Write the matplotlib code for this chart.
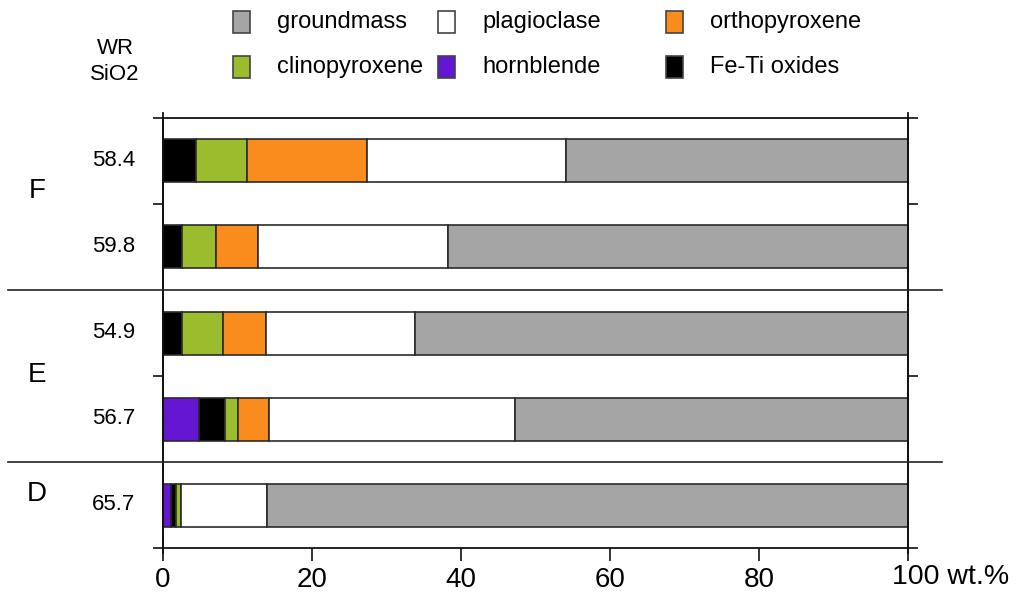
import matplotlib
matplotlib.use("Agg")
import matplotlib.pyplot as plt
from matplotlib.patches import Rectangle
from matplotlib.lines import Line2D
from matplotlib.transforms import blended_transform_factory

plt.rcParams['font.family'] = ['Liberation Sans', 'DejaVu Sans']

# ---- data ----
samples = ["58.4", "59.8", "54.9", "56.7", "65.7"]
groups = ["F", "E", "D"]
minerals = ["hornblende", "Fe-Ti oxides", "clinopyroxene", "orthopyroxene", "plagioclase", "groundmass"]
hornblende = [0.0, 0.0, 0.0, 4.8, 1.1]
fe_ti = [4.4, 2.5, 2.5, 3.5, 0.6]
cpx = [6.9, 4.6, 5.6, 1.8, 0.7]
opx = [16.1, 5.7, 5.7, 4.1, 0.0]
plag = [26.7, 25.5, 20.0, 33.0, 11.6]
groundmass = [45.9, 61.7, 66.2, 52.8, 86.0]
xticks = [0, 20, 40, 60, 80, 100]

series = [hornblende, fe_ti, cpx, opx, plag, groundmass]
colors = {"hornblende": "#6516D3", "Fe-Ti oxides": "#000000", "clinopyroxene": "#9BBC2C",
          "orthopyroxene": "#F98C1D", "plagioclase": "#FFFFFF", "groundmass": "#A5A5A5"}
edge = "#2b2b2b"

W, H = 1018, 593
fig = plt.figure(figsize=(W / 100, H / 100), dpi=100)
ax = fig.add_axes([163 / W, 1 - 548 / H, 745 / W, 430 / H])

ypos = list(range(len(samples)))
left = [0.0] * len(samples)
for name, vals in zip(minerals, series):
    ax.barh(ypos, vals, left=left, height=0.5, color=colors[name], edgecolor=edge,
            linewidth=1.2, zorder=2)
    left = [l + v for l, v in zip(left, vals)]

ax.set_xlim(0, 100)
ax.set_ylim(4.5, -0.5)
for s in ax.spines.values():
    s.set_linewidth(1.3)
    s.set_color("#111111")

# y ticks (outward both sides)
ax.set_yticks([-0.5, 0.5, 2.5, 4.5])
ax.set_yticklabels([])
ax.tick_params(axis='y', which='both', left=True, right=True, direction='out', length=7,
               width=1.2, colors="#111111")
# x ticks
ax.set_xticks(xticks)
ax.set_xticklabels([str(t) for t in xticks[:-1]] + [""])
ax.tick_params(axis='x', direction='out', length=9, width=1.2, pad=5, labelsize=20,
               colors="#111111", labelcolor="#000000")
fig.text(892 / W, 1 - 577 / H, "100 wt.%", ha='left', va='center', fontsize=20.5)

# extend vertical spines slightly
for xa in (0, 1):
    ax.add_line(Line2D([xa, xa], [-0.012, 1.012], transform=ax.transAxes, color="#111111",
                       lw=1.3, clip_on=False))

# separators between groups
tr_sep = blended_transform_factory(fig.transFigure, ax.transData)
for yb in (1.5, 3.5):
    fig.add_artist(Line2D([8 / W, 942 / W], [yb, yb], transform=tr_sep, color="#222222", lw=1.2))

# sample labels
tr = blended_transform_factory(ax.transAxes, ax.transData)
for y, s in zip(ypos, samples):
    ax.text(-28 / 745, y, s, transform=tr, ha='right', va='center', fontsize=16)

# group labels
for g, yp in zip(groups, [191, 375, 494]):
    fig.text(37 / W, 1 - yp / H, g, ha='center', va='center', fontsize=20)

fig.text(115 / W, 1 - 48 / H, "WR", ha='center', va='center', fontsize=16)
fig.text(115 / W, 1 - 75 / H, "SiO2", ha='center', va='center', fontsize=16)

# legend (manual, 2 rows x 3 columns)
legend_layout = [("groundmass", 233, 22), ("plagioclase", 438, 22), ("orthopyroxene", 666, 22),
                 ("clinopyroxene", 233, 67), ("hornblende", 438, 67), ("Fe-Ti oxides", 666, 67)]
for name, px, py in legend_layout:
    fig.add_artist(Rectangle((px / W, 1 - (py + 11) / H), 17 / W, 22 / H, transform=fig.transFigure,
                             facecolor=colors[name], edgecolor="#444444", lw=1.2))
    fig.text((px + 44) / W, 1 - py / H, name, ha='left', va='center', fontsize=17)

fig.savefig("out.png", dpi=100)
